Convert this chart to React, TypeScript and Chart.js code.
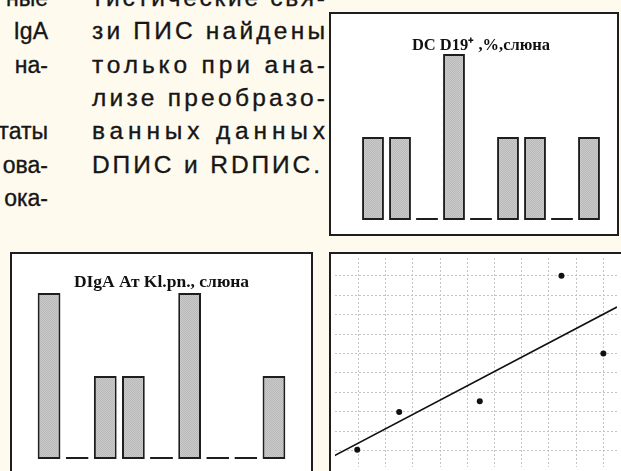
import React, { useEffect, useRef } from "react";
import { Chart, registerables } from "chart.js";

Chart.register(...registerables);

// ---------- data ----------
const barCategories = ["1", "2", "3", "4", "5", "6", "7", "8", "9"];
const cd19Title = "DC D19⁺ ,%,слюна";
const cd19Values = [1, 1, 0, 2, 0, 1, 1, 0, 1];
const igaTitle = "DIgA Ат Kl.pn., слюна";
const igaValues = [2, 0, 1, 1, 0, 2, 0, 0, 1];

const scatterX = [0.96, 2.5, 5.46, 8.46, 10.0];
const scatterY = [1.06, 3.0, 3.55, 10.0, 6.0];
const trendX = [0.07, 10.5];
const trendY = [0.71, 8.39];

// text of the scanned page
const midLines = [
  "тистические свя-",
  "зи ПИС найдены",
  "только при ана-",
  "лизе преобразо-",
  "ванных данных",
  "DПИС и RDПИС.",
];
const leftLines = ["ные", "IgA", "на-", "", "таты", "ова-", "ока-"];

// ---------- layout constants ----------
const PAGE_BG = "#fffaee";
const INK = "#161616";
const BORDER = "#1e1e1e";
const LINE_Y0 = 6;
const LINE_STEP = 33.3;

function makePattern(): CanvasPattern | string {
  const c = document.createElement("canvas");
  c.width = 2;
  c.height = 2;
  const g = c.getContext("2d");
  if (!g) return "#c2c2c2";
  g.fillStyle = "#cacaca";
  g.fillRect(0, 0, 2, 2);
  g.fillStyle = "#b9b9b9";
  g.fillRect(0, 0, 1, 1);
  g.fillRect(1, 1, 1, 1);
  return g.createPattern(c, "repeat") || "#c2c2c2";
}

function barConfig(
  values: number[],
  title: string,
  titleSize: number,
  pad: { left: number; right: number; bottom: number },
  titlePad: { top: number; bottom: number }
): any {
  return {
    type: "bar",
    data: {
      labels: barCategories,
      datasets: [
        {
          data: values,
          backgroundColor: makePattern(),
          borderColor: BORDER,
          borderWidth: 2,
          borderSkipped: false,
          barPercentage: 0.81,
          categoryPercentage: 1,
          minBarLength: 2,
        },
      ],
    },
    options: {
      animation: false,
      responsive: false,
      maintainAspectRatio: false,
      events: [],
      layout: { padding: { left: pad.left, right: pad.right, top: 0, bottom: pad.bottom } },
      plugins: {
        legend: { display: false },
        tooltip: { enabled: false },
        title: {
          display: true,
          text: title,
          color: "#111",
          font: {
            family: '"Liberation Serif", "Times New Roman", serif',
            size: titleSize,
            weight: "bold",
            lineHeight: 1,
          },
          padding: titlePad,
        },
      },
      scales: {
        x: { display: false },
        y: { display: false, min: 0, max: 2 },
      },
    },
  };
}

export default function App() {
  const cd19Ref = useRef<HTMLCanvasElement | null>(null);
  const igaRef = useRef<HTMLCanvasElement | null>(null);
  const scRef = useRef<HTMLCanvasElement | null>(null);

  useEffect(() => {
    const charts: Chart[] = [];
    if (cd19Ref.current) {
      charts.push(
        new Chart(
          cd19Ref.current,
          barConfig(cd19Values, cd19Title, 16.5, { left: 28.5, right: 14.5, bottom: 14 }, { top: 23.5, bottom: 0 })
        )
      );
    }
    if (igaRef.current) {
      charts.push(
        new Chart(
          igaRef.current,
          barConfig(igaValues, igaTitle, 17.5, { left: 23, right: 23, bottom: 12 }, { top: 20, bottom: 1.5 })
        )
      );
    }
    if (scRef.current) {
      const gridAxis = (min: number, max: number) => ({
        type: "linear",
        min,
        max,
        ticks: { display: false, stepSize: 1, includeBounds: false },
        grid: { color: "#c4c4c4", lineWidth: 1, drawTicks: false },
        border: { display: false, dash: [2, 2] },
      });
      charts.push(
        new Chart(scRef.current, {
          type: "scatter",
          data: {
            datasets: [
              {
                data: scatterX.map((x, i) => ({ x, y: scatterY[i] })),
                pointRadius: 3,
                pointBackgroundColor: "#111",
                pointBorderWidth: 0,
                showLine: false,
              },
              {
                data: trendX.map((x, i) => ({ x, y: trendY[i] })),
                showLine: true,
                pointRadius: 0,
                borderColor: "#111",
                borderWidth: 1.6,
              },
            ],
          },
          options: {
            animation: false,
            responsive: false,
            maintainAspectRatio: false,
            events: [],
            layout: { padding: 0 },
            plugins: { legend: { display: false }, tooltip: { enabled: false } },
            scales: {
              x: gridAxis(0.143, 10.5),
              y: gridAxis(0.168, 10.91),
            },
          },
        } as any)
      );
    }
    return () => charts.forEach((c) => c.destroy());
  }, []);

  const box = (left: number, top: number, width: number, height: number): React.CSSProperties => ({
    position: "absolute",
    left,
    top,
    width,
    height,
    border: `2px solid ${BORDER}`,
    background: "#ffffff",
    boxSizing: "border-box",
    overflow: "hidden",
  });

  const textFont = '"Liberation Sans", Arial, Helvetica, sans-serif';

  return (
    <div
      style={{
        position: "fixed",
        left: 0,
        top: 0,
        width: 621,
        height: 471,
        overflow: "hidden",
        background: PAGE_BG,
      }}
    >
      <svg
        width={621}
        height={471}
        style={{ position: "absolute", left: 0, top: 0 }}
        fontFamily={textFont}
        fill={INK}
        stroke={INK}
        strokeWidth={0.35}
      >
        {midLines.map((t, i) => (
          <text
            key={"m" + i}
            x={92}
            y={LINE_Y0 + i * LINE_STEP}
            fontSize={24.5}
            textLength={i === 5 ? 228 : 233}
            lengthAdjust="spacing"
          >
            {t}
          </text>
        ))}
        {leftLines.map((t, i) =>
          t ? (
            <text key={"l" + i} x={48} y={LINE_Y0 + i * LINE_STEP} fontSize={23} textAnchor="end">
              {t}
            </text>
          ) : null
        )}
      </svg>

      <div style={box(329, 12, 290, 224)}>
        <canvas ref={cd19Ref} width={286} height={220} style={{ display: "block" }} />
      </div>

      <div style={box(10, 252, 303, 240)}>
        <canvas ref={igaRef} width={299} height={217} style={{ display: "block" }} />
      </div>

      <div style={box(329, 252, 310, 240)}>
        <canvas ref={scRef} width={290} height={217} style={{ display: "block" }} />
      </div>
    </div>
  );
}
